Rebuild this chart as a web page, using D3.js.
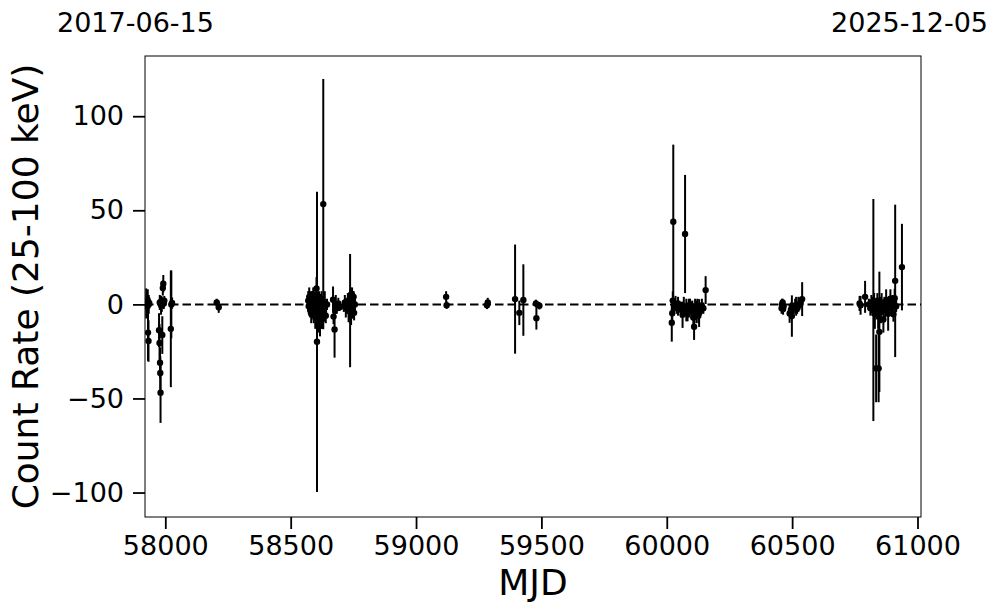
<!DOCTYPE html>
<html><head><meta charset="utf-8">
<script src="https://cdn.jsdelivr.net/npm/d3@7"></script>
<style>
html,body{margin:0;padding:0;background:#fff;}
text{font-family:"DejaVu Sans",sans-serif;}
</style></head>
<body><svg id="c" width="997" height="613"></svg>
<script>
// ---- data ----
const mjd = [
57924,57926,57928,57930,57931,57933,57934,57936,
57975,57977,57978,57979,57980,57981,57983,57984,57986,57988,57990,57992,57994,57996,
58022,58024,58027,58205,58213,
58570,58572,58574,58576,58578,58580,58582,58584,58586,58588,58590,58592,58594,58596,58598,58600,58602,58603,58605,58607,58609,58611,58613,58615,58617,58619,58621,58623,58625,58627,58630,58633,58636,58640,58645,
58669,58671,58675,58680,58684,58690,58695,
58712,58716,58720,58724,58728,58731,58734,58737,58739,58741,58743,58745,58747,58749,58751,58753,58756,
59120,59122,59283,59286,59395,59412,59428,59478,59480,59492,
60020,60022,60024,60026,60030,60035,60040,60045,60050,60058,60063,60068,60073,60078,60083,60088,60093,60098,60102,60106,60109,60113,60118,60122,60126,60129,60134,60140,60146,60155,
60458,60460,60462,60464,60466,60490,60495,60499,60505,60512,60516,60520,60525,60529,60534,60540,
60769,60773,60791,60806,60812,60816,60820,60824,60827,60830,60833,60835,60838,60840,60843,60845,60848,60851,60854,60857,60860,60864,60868,60871,60875,60879,60883,60888,60892,60896,60900,60904,60909,60911,60915,60938
];
const rate = [
0.5,1.5,-1.0,2.0,-15,-19.5,0.0,0.8,
-13.7,-20.5,1.0,-31,-36.5,-47,-0.5,1.5,0.0,-16.3,8.7,11.0,0.5,2,
-13,0.0,0.7,1.0,-1.5,
2,-1,4,0.5,-3,1,-5,3,-2,0,5,-4,-1,2,-7,1,-3,8.5,-19.9,0,-5,-9,2,-3,-11,0.5,-6,3,-8,-2,53.3,-4,1,-6,0,
2.5,-6.5,-13.3,0,-2,0.5,-1.5,
-1,1,-2,0,2,-3.5,0.5,-3.3,5,-6,3,5,-2,1,4,-4.5,0,
4.0,-0.4,-0.5,1.0,2.8,-4.5,2.3,0.5,-7.4,-0.7,
-9.8,-4.7,2,43.9,-1,0.5,-2,-1,0,-3,-5.5,-1,37.4,-3,-5,-2,0,-3.5,-1,-7,-11.9,-2,-4,-1,-6,-4.6,-2,-1,-2,7.6,
-2,0,1,-2.5,-1,-4.8,-3,-6.2,-2,-1,-1,-2,0,0,1,2.8,
0.5,-0.5,4,0,-2,1,-1,-3,0,-5,-1,-34,-3,2,-6,-34,-14.6,0,-4,1,-2,-8,0,-3,2,-1,-5,-1,3,-2,1,-5.2,3.3,12.5,-1,19.8
];
const err = [
8,4,3,6,15,11,5,3,
9,10,4,8,9,16,5,3,4,10,4,4.6,3,2.5,
31,18,3,2,3,
5,4,5,3,4,6,5,4,3,7,4,6,3,5,6,4,5,6,79.8,4,7,6,5,8,6,5,7,4,5,3,66.5,5,6,4,3,
7,4,15,5,3,3,2,
3,4,5,3,4,6,3,30.1,4,5,5,4,3,6,3,4,3,
3,2,2,2.5,29,6.5,19,2,6,2,
10,6,5,41,3,4,3,5,2,4,7,5,31.4,6,4,5,3,4,3,5,7,5,6,4,4,7.4,3,4,3,7.4,
3,3,2,3,2,5,4,11,3,4,5,3,4,3,3,9,
4,5,8.5,3,4,4,5,59,6,8,3,18,5,4,7,18,32,4,6,5,3,7,4,5,6,4,9,3,5,3,4,4,5,40.5,3,23
];
const xTicks = [58000,58500,59000,59500,60000,60500,61000];
const yTicks = [-100,-50,0,50,100];
const xDomain = [57919, 61014];
const yDomain = [-113, 132];
const startLabel = "2017-06-15";
const endLabel = "2025-12-05";

// ---- layout ----
const L = 145, R = 921, T = 56, B = 517;
const svg = d3.select("#c");
const x = d3.scaleLinear().domain(xDomain).range([L, R]);
const y = d3.scaleLinear().domain(yDomain).range([B, T]);

// zero line
svg.append("line").attr("x1", L).attr("x2", R).attr("y1", y(0)).attr("y2", y(0))
  .attr("stroke", "#000").attr("stroke-width", 2).attr("stroke-dasharray", "8.5,4");

const pts = mjd.map((m, i) => ({m, r: rate[i], e: err[i]}));
const clipId = "clp";
svg.append("clipPath").attr("id", clipId).append("rect")
  .attr("x", L).attr("y", T).attr("width", R - L).attr("height", B - T);
const g = svg.append("g").attr("clip-path", `url(#${clipId})`);
g.selectAll("line.eb").data(pts).join("line").attr("class", "eb")
  .attr("x1", d => x(d.m)).attr("x2", d => x(d.m))
  .attr("y1", d => y(d.r - d.e)).attr("y2", d => y(d.r + d.e))
  .attr("stroke", "#000").attr("stroke-width", 2);
g.selectAll("circle").data(pts).join("circle")
  .attr("cx", d => x(d.m)).attr("cy", d => y(d.r)).attr("r", 3.2).attr("fill", "#000");

// frame
svg.append("rect").attr("x", L).attr("y", T).attr("width", R - L).attr("height", B - T)
  .attr("fill", "none").attr("stroke", "#000").attr("stroke-width", 1);

// axes
const xa = svg.append("g").attr("transform", `translate(0,${B})`)
  .call(d3.axisBottom(x).tickValues(xTicks).tickFormat(d3.format("d")).tickSize(12).tickSizeOuter(0).tickPadding(7));
const ya = svg.append("g").attr("transform", `translate(${L},0)`)
  .call(d3.axisLeft(y).tickValues(yTicks).tickFormat(d => d < 0 ? "\u2212" + Math.abs(d) : d).tickSize(12).tickSizeOuter(0).tickPadding(9));
[xa, ya].forEach(a => {
  a.select(".domain").remove();
  a.selectAll(".tick line").attr("stroke", "#000").attr("stroke-width", 1.8);
  a.selectAll(".tick text").attr("fill", "#000").style("font-size", "27px").style("font-family", "DejaVu Sans");
});

// labels
svg.append("text").attr("x", (L + R) / 2).attr("y", 595).attr("text-anchor", "middle")
  .style("font-size", "36px").text("MJD");
svg.append("text").attr("transform", `translate(38,${(T + B) / 2}) rotate(-90)`).attr("text-anchor", "middle")
  .style("font-size", "36px").text("Count Rate (25-100 keV)");
svg.append("text").attr("x", 57).attr("y", 32).style("font-size", "27px").text(startLabel);
svg.append("text").attr("x", 988).attr("y", 32).attr("text-anchor", "end").style("font-size", "27px").text(endLabel);
</script></body></html>
